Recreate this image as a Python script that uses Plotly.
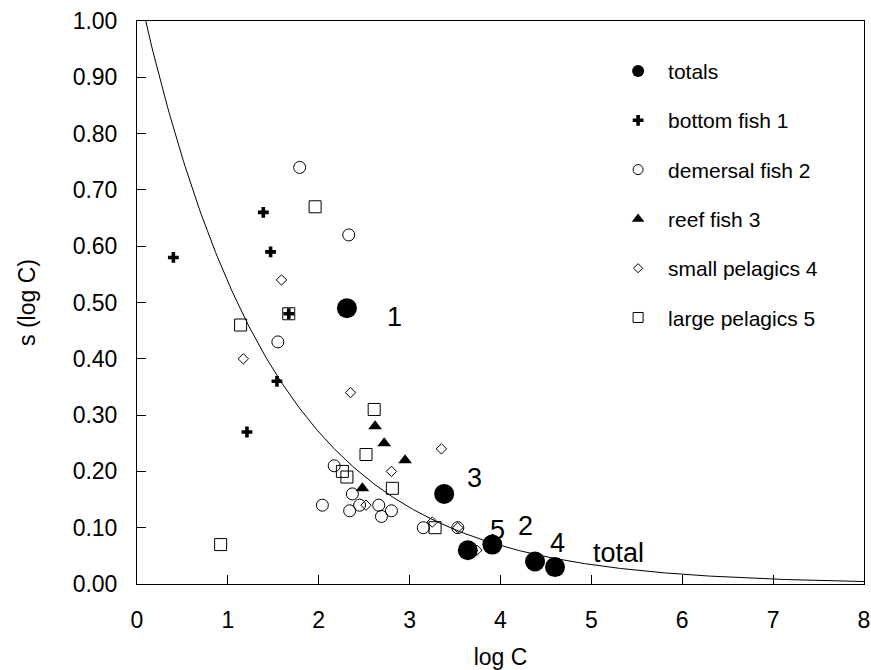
import numpy as np
import plotly.graph_objects as go

# ---- data: log catch (x) and s(log C) (y) per fishery group ----
totals_x = [2.31, 3.38, 3.64, 3.91, 4.38, 4.60]
totals_y = [0.49, 0.16, 0.06, 0.07, 0.04, 0.03]
totals_lbl = ["1", "3", "5", "2", "4", "total"]

bottom_x = [0.40, 1.39, 1.47, 1.67, 1.54, 1.21]
bottom_y = [0.58, 0.66, 0.59, 0.48, 0.36, 0.27]

demersal_x = [1.79, 2.33, 1.55, 2.17, 2.37, 2.04, 2.34, 2.45, 2.66, 2.69, 2.80, 3.15, 3.53]
demersal_y = [0.74, 0.62, 0.43, 0.21, 0.16, 0.14, 0.13, 0.14, 0.14, 0.12, 0.13, 0.10, 0.10]

reef_x = [2.62, 2.72, 2.95, 2.48]
reef_y = [0.28, 0.25, 0.22, 0.17]

smallpel_x = [1.59, 1.17, 2.35, 3.35, 2.80, 2.52, 3.25, 3.53, 3.74]
smallpel_y = [0.54, 0.40, 0.34, 0.24, 0.20, 0.14, 0.11, 0.10, 0.06]

largepel_x = [1.96, 1.67, 1.14, 2.61, 2.52, 2.26, 2.31, 2.81, 3.28, 0.92]
largepel_y = [0.67, 0.48, 0.46, 0.31, 0.23, 0.20, 0.19, 0.17, 0.10, 0.07]

# fitted decay curve s = A * exp(-B * logC)
CURVE_A = 1.067
CURVE_B = 0.687

x_ticks = list(range(0, 9))
y_ticks = [round(0.1 * i, 1) for i in range(0, 11)]

FONT = "Liberation Sans, Arial, sans-serif"
BLACK = "#000000"

fig = go.Figure()

# fitted curve
cx = np.linspace(0, 8, 500)
fig.add_trace(go.Scatter(x=cx, y=CURVE_A * np.exp(-CURVE_B * cx), mode="lines",
                         line=dict(color=BLACK, width=1), showlegend=False,
                         hoverinfo="skip"))

# group points
fig.add_trace(go.Scatter(x=largepel_x, y=largepel_y, mode="markers", showlegend=False,
                         marker=dict(symbol="square-open", size=12, color=BLACK,
                                     line=dict(width=1, color=BLACK))))
fig.add_trace(go.Scatter(x=demersal_x, y=demersal_y, mode="markers", showlegend=False,
                         marker=dict(symbol="circle-open", size=12, color=BLACK,
                                     line=dict(width=1, color=BLACK))))
fig.add_trace(go.Scatter(x=smallpel_x, y=smallpel_y, mode="markers", showlegend=False,
                         marker=dict(symbol="diamond-open", size=8, color=BLACK,
                                     line=dict(width=1, color=BLACK))))
fig.add_trace(go.Scatter(x=reef_x, y=reef_y, mode="markers", showlegend=False,
                         marker=dict(symbol="triangle-up", size=12, color=BLACK,
                                     line=dict(width=0))))
fig.add_trace(go.Scatter(x=bottom_x, y=bottom_y, mode="markers", showlegend=False,
                         marker=dict(symbol="cross", size=9, color=BLACK,
                                     line=dict(width=0))))
fig.add_trace(go.Scatter(x=totals_x, y=totals_y, mode="markers", showlegend=False,
                         marker=dict(symbol="circle", size=20, color=BLACK,
                                     line=dict(width=0))))

# legend entries
legend_items = [
    ("totals", "circle", 12, 0),
    ("bottom fish 1", "cross", 9, 0),
    ("demersal fish 2", "circle-open", 10, 1),
    ("reef fish 3", "triangle-up", 11, 0),
    ("small pelagics 4", "diamond-open", 7, 1),
    ("large pelagics 5", "square-open", 10, 1),
]
for i, (name, sym, sz, lw) in enumerate(legend_items):
    fig.add_trace(go.Scatter(x=[None], y=[None], mode="markers", name=name,
                             legendgroup=f"g{i}",
                             marker=dict(symbol=sym, size=sz, color=BLACK,
                                         line=dict(width=lw, color=BLACK))))

# labels next to the total points (pixel offsets)
label_shift = {"1": (48, -9), "3": (30, 16), "5": (30, 20), "2": (33, 19),
               "4": (22, 18), "total": (36, 14)}
for x, y, t in zip(totals_x, totals_y, totals_lbl):
    dx, dy = label_shift[t]
    fig.add_annotation(x=x, y=y, text=t, showarrow=False,
                       xanchor="center" if t != "total" else "left",
                       yanchor="middle", xshift=dx, yshift=dy,
                       font=dict(family=FONT, size=27, color=BLACK))

axis_common = dict(showline=True, linecolor=BLACK, linewidth=1, mirror=True,
                   ticks="inside", ticklen=9, tickwidth=1, tickcolor=BLACK,
                   showgrid=False, zeroline=False, automargin=False,
                   tickfont=dict(family=FONT, size=23, color=BLACK))

fig.update_xaxes(range=[0, 8], tickvals=x_ticks, ticktext=[str(v) for v in x_ticks],
                 ticklabelstandoff=15,
                 title=dict(text="log C", standoff=26,
                            font=dict(family=FONT, size=23, color=BLACK)),
                 **axis_common)
fig.update_yaxes(range=[0, 1], tickvals=y_ticks, ticktext=[f"{v:.2f}" for v in y_ticks],
                 ticklabelstandoff=14,
                 title=dict(text="s (log C)", standoff=30,
                            font=dict(family=FONT, size=23, color=BLACK)),
                 **axis_common)

fig.update_layout(
    width=871, height=670,
    margin=dict(l=137, r=7, t=21, b=86),
    paper_bgcolor="white", plot_bgcolor="white",
    showlegend=True,
    legend=dict(x=0.648, y=0.947, xanchor="left", yanchor="top",
                bgcolor="rgba(0,0,0,0)", borderwidth=0,
                tracegroupgap=19, itemwidth=50,
                font=dict(family=FONT, size=21, color=BLACK)),
    font=dict(family=FONT, color=BLACK),
)

fig.write_html("out.html")
